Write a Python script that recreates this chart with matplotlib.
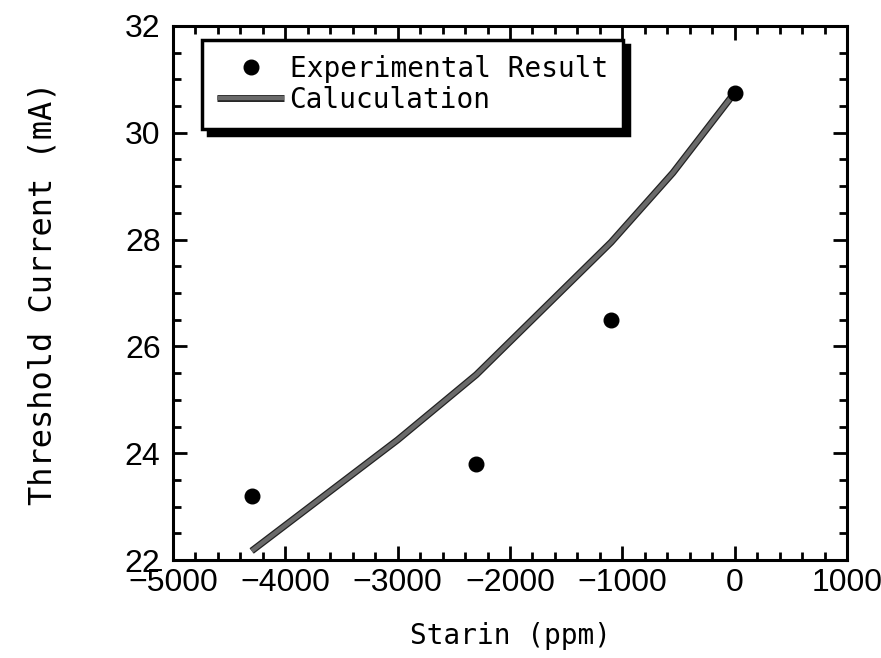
import matplotlib
matplotlib.use('Agg')
import matplotlib.pyplot as plt
import matplotlib.patheffects as pe
from matplotlib.ticker import MultipleLocator

# Measured points
strain_exp = [-4300, -2300, -1100, 0]
ith_exp = [23.2, 23.8, 26.5, 30.75]

# Calculated curve
strain_calc = [-4300, -3000, -2300, -1100, -550, 0]
ith_calc = [22.17, 24.25, 25.47, 27.95, 29.25, 30.75]

mono = 'DejaVu Sans Mono'
tickfont = 'Liberation Sans'

fig = plt.figure(figsize=(8.81, 6.58), dpi=100)
ax = fig.add_axes([0.1964, 0.1489, 0.765, 0.8116])

ax.plot(strain_calc, ith_calc, color='#6a6a6a', lw=3.2, solid_capstyle='butt',
        path_effects=[pe.Stroke(linewidth=5, foreground='#222222'), pe.Normal()],
        label='Caluculation', zorder=2)
ax.plot(strain_exp, ith_exp, 'o', color='black', ms=10.5, label='Experimental Result', zorder=3)

ax.set_xlim(-5000, 1000)
ax.set_ylim(22, 32)
ax.xaxis.set_major_locator(MultipleLocator(1000))
ax.xaxis.set_minor_locator(MultipleLocator(200))
ax.yaxis.set_major_locator(MultipleLocator(2))
ax.yaxis.set_minor_locator(MultipleLocator(0.5))
ax.tick_params(which='both', direction='in', top=True, right=True, width=2, colors='black')
ax.tick_params(which='major', length=10, labelsize=23)
ax.tick_params(axis='x', which='major', pad=6)
ax.tick_params(axis='y', which='major', pad=9)
ax.tick_params(which='minor', length=6)
for s in ax.spines.values():
    s.set_linewidth(2.2)
for lab in ax.get_xticklabels() + ax.get_yticklabels():
    lab.set_family(tickfont)

ax.set_xlabel('Starin (ppm)', fontsize=20, family=mono, labelpad=17)
ax.set_ylabel('Threshold Current (mA)', fontsize=23, family=mono, labelpad=48)

h, l = ax.get_legend_handles_labels()
leg = ax.legend(h[::-1], l[::-1], loc='upper left', bbox_to_anchor=(0.043, 0.974),
                borderaxespad=0, frameon=True, fancybox=False,
                shadow={'ox': 4, 'oy': -4, 'color': 'black', 'alpha': 1},
                prop={'family': mono, 'size': 20}, handlelength=2.4,
                handletextpad=0.2, labelspacing=0.1, borderpad=0.55)
leg.get_frame().set_edgecolor('black')
leg.get_frame().set_linewidth(2.5)
leg.get_frame().set_alpha(1)

fig.savefig('out.png', dpi=100)
